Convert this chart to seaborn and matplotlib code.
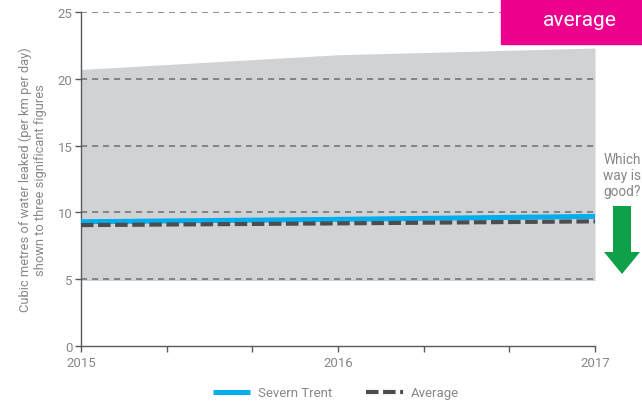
import matplotlib
matplotlib.use("Agg")
import matplotlib.pyplot as plt
import seaborn as sns
import pandas as pd
from matplotlib.patches import FancyArrow, Rectangle

# Leakage per km of main per day
years = [2015, 2016, 2017]
severn_trent = [9.3, 9.48, 9.7]
industry_average = [9.05, 9.18, 9.33]
range_low = [4.9, 4.9, 4.9]
range_high = [20.7, 21.8, 22.3]

y_ticks = [0, 5, 10, 15, 20, 25]
x_labels = ["2015", "2016", "2017"]
series_names = ["Severn Trent", "Average"]

sns.set_theme(style="white")
plt.rcParams["font.family"] = ["Roboto", "DejaVu Sans"]

BLUE = "#00AEEF"
DARK = "#4D4D4F"
BAND = "#D1D2D4"
GRID = "#6D6E71"
TEXT = "#86878A"
PINK = "#EC008C"
GREEN = "#0FA04A"

fig = plt.figure(figsize=(6.42, 4.06), dpi=100)
ax = fig.add_axes([81 / 642, 59 / 406, 514 / 642, 334 / 406])

# range of companies shaded behind the lines
ax.fill_between(years, range_low, range_high, color=BAND, lw=0, zorder=1)

for y in y_ticks[1:]:
    ax.axhline(y, color=GRID, lw=1.1, ls=(0, (4, 3.2)), zorder=2)

df = pd.DataFrame({
    "year": years * 2,
    "value": severn_trent + industry_average,
    "series": [series_names[0]] * 3 + [series_names[1]] * 3,
})
sns.lineplot(data=df, x="year", y="value", hue="series", style="series",
             palette={series_names[0]: BLUE, series_names[1]: DARK},
             dashes={series_names[0]: "", series_names[1]: (3.0, 1.1)},
             linewidth=3.6, ax=ax, legend=False, zorder=3)
for ln in ax.lines[-2:]:
    ln.set_solid_capstyle("butt")
    ln.set_dash_capstyle("butt")
    ln.set_clip_on(False)
ax.lines[-1].set_linewidth(3.0)

ax.set_xlim(2015, 2017)
ax.set_ylim(0, 25)
ax.set_yticks(y_ticks)
ax.set_yticklabels([str(v) for v in y_ticks])
ax.set_xticks([2015 + i / 3 for i in range(7)])
ax.set_xticklabels([x_labels[0], "", "", x_labels[1], "", "", x_labels[2]])
ax.set_xlabel("")
ax.set_ylabel("Cubic metres of water leaked (per km per day)\nshown to three significant figures",
              color=TEXT, fontsize=9.3, labelpad=8, linespacing=1.15)

for side in ["top", "right"]:
    ax.spines[side].set_visible(False)
for side in ["left", "bottom"]:
    ax.spines[side].set_color("#58595B")
    ax.spines[side].set_linewidth(1.0)
ax.tick_params(axis="both", colors="#58595B", labelcolor=TEXT, labelsize=9.5,
               length=4, width=1.0, direction="out", pad=2, left=True, bottom=True)
ax.tick_params(axis="x", pad=3)

# legend below the plot
handles = [plt.Line2D([], [], color=BLUE, lw=3.6, solid_capstyle="butt"),
           plt.Line2D([], [], color=DARK, lw=3.0, ls=(0, (3.0, 1.1)), dash_capstyle="butt")]
fig.legend(handles, series_names, loc="center", bbox_to_anchor=(336 / 642, 1 - 394 / 406),
           ncol=2, frameon=False, fontsize=9.5, labelcolor=TEXT, handlelength=2.8,
           handletextpad=0.6, columnspacing=2.6)

# heading badge in the corner
fig.patches.append(Rectangle((501 / 642, 1 - 45 / 406), 141 / 642, 45 / 406,
                             transform=fig.transFigure, color=PINK, zorder=5))
fig.text(580 / 642, 1 - 20 / 406, "average", color="white", fontsize=15,
         ha="center", va="center", zorder=6)

# direction hint
fig.text(622 / 642, 1 - 176 / 406, "Which\nway is\ngood?", color=TEXT, fontsize=9.8,
         ha="center", va="center", linespacing=1.15)
fig.patches.append(FancyArrow(622 / 642, 1 - 207 / 406, 0, -68 / 406,
                              width=18 / 642, head_width=36 / 642, head_length=22 / 406,
                              length_includes_head=True, transform=fig.transFigure,
                              color=GREEN, lw=0))

fig.savefig("out.png", dpi=100)
